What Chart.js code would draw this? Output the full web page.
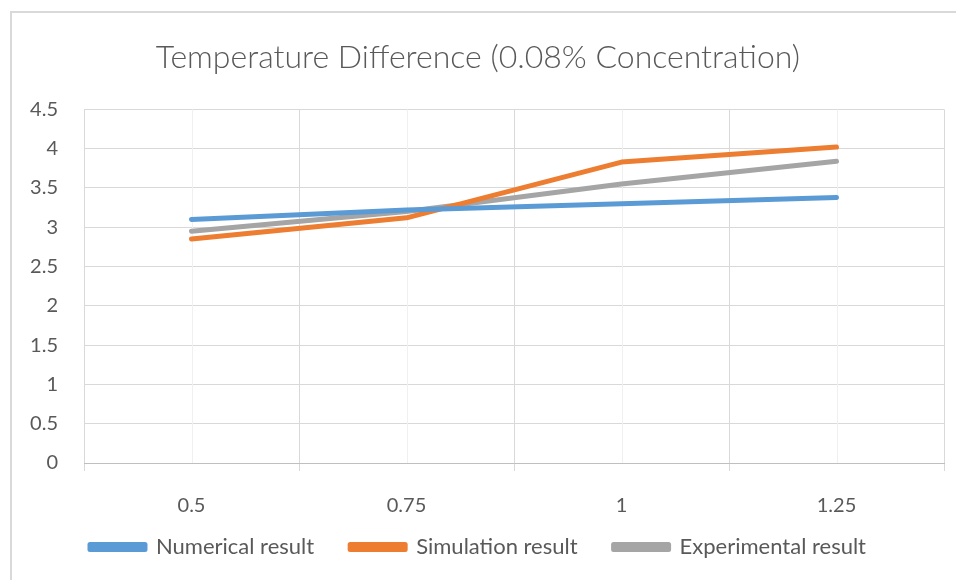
<!DOCTYPE html>
<html>
<head>
<meta charset="utf-8">
<script src="https://cdn.jsdelivr.net/npm/chart.js@4/dist/chart.umd.min.js"></script>
<style>
  body { margin: 0; background: #fff; }
  #wrap { position: relative; width: 956px; height: 580px; }
  #frame { position: absolute; left: 10px; top: 11px; right: -20px; bottom: -20px;
           border-left: 2px solid #d9d9d9; border-top: 2px solid #d9d9d9; }
  canvas { position: absolute; left: 0; top: 0; }
</style>
</head>
<body>
<div id="wrap">
  <div id="frame"></div>
  <canvas id="temp-chart" width="956" height="580"></canvas>
</div>
<script>
var concentrations = ["0.5", "0.75", "1", "1.25"];
var numericalResult = [3.1, 3.22, 3.3, 3.38];
var simulationResult = [2.85, 3.12, 3.83, 4.02];
var experimentalResult = [2.95, 3.2, 3.55, 3.84];

var font = "Lato, 'Open Sans', sans-serif";
var legendGap = 36;

// light gridlines through the category centres, like Excel draws them
var centreLines = {
    id: 'centreLines',
    beforeDatasetsDraw: function(chart) {
        var x = chart.scales.x, area = chart.chartArea, c = chart.ctx;
        c.save();
        c.strokeStyle = '#f0f0f0';
        c.lineWidth = 1;
        for (var i = 0; i < concentrations.length; i++) {
            var px = Math.round(x.getPixelForValue(i)) + 0.5;
            c.beginPath();
            c.moveTo(px, area.top);
            c.lineTo(px, area.bottom);
            c.stroke();
        }
        c.restore();
    }
};

// legend padding sets the gap between items; pull the row back up so it
// doesn't also push the legend away from the axis labels
var legendLift = {
    id: 'legendLift',
    afterLayout: function(chart) {
        chart.legend.top -= legendGap;
    }
};

var ctx = document.getElementById('temp-chart').getContext('2d');
var chart = new Chart(ctx, {
    type: 'line',
    data: {
        labels: concentrations,
        datasets: [{
            label: 'Numerical result',
            data: numericalResult,
            borderColor: '#5B9BD5',
            backgroundColor: '#5B9BD5'
        }, {
            label: 'Simulation result',
            data: simulationResult,
            borderColor: '#ED7D31',
            backgroundColor: '#ED7D31'
        }, {
            label: 'Experimental result',
            data: experimentalResult,
            borderColor: '#A5A5A5',
            backgroundColor: '#A5A5A5'
        }]
    },
    options: {
        responsive: false,
        animation: false,
        layout: {
            padding: { left: 12, right: 12, top: 0, bottom: 0 }
        },
        elements: {
            line: { borderWidth: 5, tension: 0, borderCapStyle: 'round', borderJoinStyle: 'round' },
            point: { radius: 0, hoverRadius: 0 }
        },
        plugins: {
            title: {
                display: true,
                text: 'Temperature Difference (0.08% Concentration)',
                color: '#595959',
                font: { family: font, size: 32, weight: 300 },
                padding: { top: 38, bottom: 33 }
            },
            legend: {
                display: true,
                position: 'bottom',
                maxHeight: 44,
                labels: {
                    color: '#595959',
                    font: { family: font, size: 22 },
                    boxWidth: 55,
                    boxHeight: 5,
                    padding: legendGap
                }
            },
            tooltip: { enabled: false }
        },
        scales: {
            x: {
                offset: true,
                afterFit: function(scale) { scale.height = 73; },
                grid: {
                    offset: true,
                    color: '#d9d9d9',
                    tickLength: 8,
                    tickColor: '#d9d9d9'
                },
                border: { color: '#bfbfbf' },
                ticks: {
                    color: '#595959',
                    font: { family: font, size: 20 },
                    padding: 23
                }
            },
            y: {
                min: 0,
                max: 4.5,
                afterFit: function(scale) { scale.width = 72; },
                grid: { color: '#d9d9d9', drawTicks: false },
                border: { display: false },
                ticks: {
                    stepSize: 0.5,
                    color: '#595959',
                    font: { family: font, size: 20 },
                    padding: 26,
                    callback: function(value) { return String(value); }
                }
            }
        }
    },
    plugins: [centreLines, legendLift]
});
</script>
</body>
</html>
